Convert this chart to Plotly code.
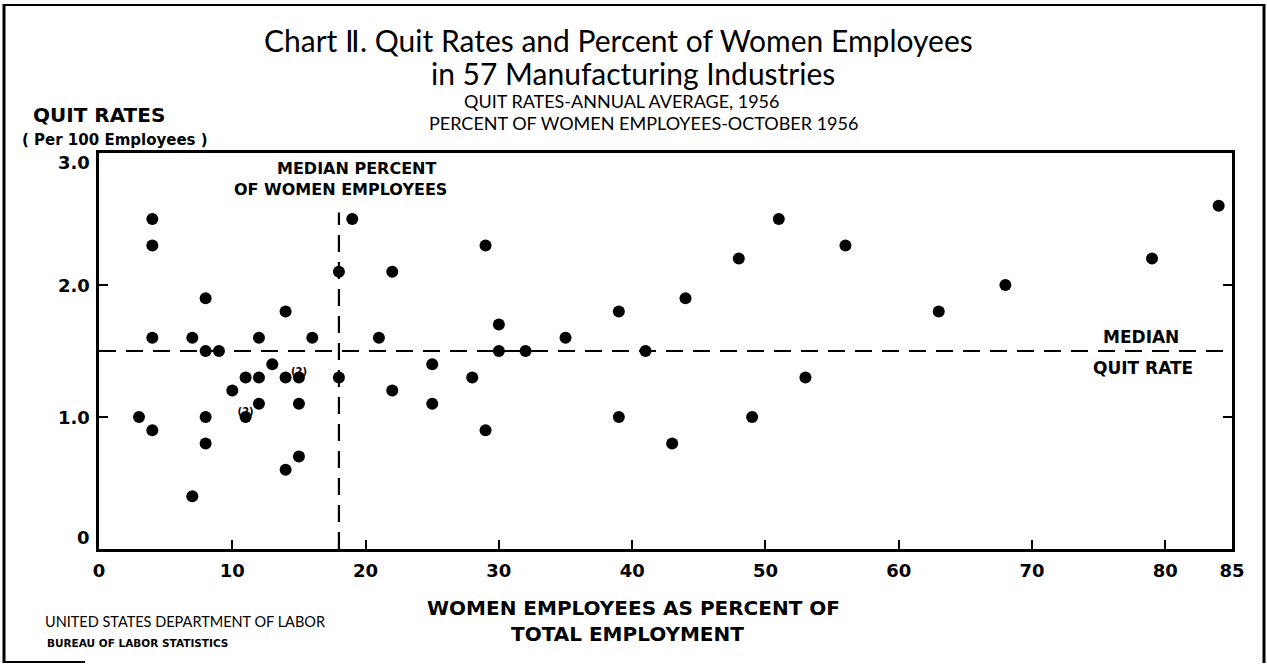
import plotly.graph_objects as go

# ---- data ----
women_pct = [4, 4, 18, 19, 8, 14, 4, 7, 12, 16, 8, 9, 13, 11, 12, 14, 15, 18, 10, 12, 15, 3, 8, 11, 4, 8, 15, 14, 7,
             29, 22, 39, 30, 21, 35, 30, 32, 41, 25, 28, 22, 25, 39, 29, 43,
             44, 48, 51, 49, 53, 56, 63, 68, 79, 84]
quit_rate = [2.5, 2.3, 2.1, 2.5, 1.9, 1.8, 1.6, 1.6, 1.6, 1.6, 1.5, 1.5, 1.4, 1.3, 1.3, 1.3, 1.3, 1.3, 1.2, 1.1, 1.1, 1.0, 1.0, 1.0, 0.9, 0.8, 0.7, 0.6, 0.4,
             2.3, 2.1, 1.8, 1.7, 1.6, 1.6, 1.5, 1.5, 1.5, 1.4, 1.3, 1.2, 1.1, 1.0, 0.9, 0.8,
             1.9, 2.2, 2.5, 1.0, 1.3, 2.3, 1.8, 2.0, 2.2, 2.6]
# points representing two industries
double_x = [15, 11]
double_y = [1.3, 1.0]
double_label = ["(2)", "(2)"]

median_women_pct = 18
median_quit_rate = 1.5
median_line_top = 2.55

x_ticks = [0, 10, 20, 30, 40, 50, 60, 70, 80, 85]
x_ticktext = ["0", "10", "20", "30", "40", "50", "60", "70", "80", "85"]
y_ticks = [0, 1, 2, 3]
y_ticktext = ["0", "1.0", "2.0", "3.0"]

X_MAX = 85
Y_MAX = 3.0

HEAVY = "DejaVu Sans"
LIGHT = "Lato"

W, H = 1267, 664
PL, PR, PT, PB = 99, 1232, 153, 549          # plot frame in pixels
L, R, T, B = PL, W - PR, PT, H - PB

def px(x):  # pixel -> paper x
    return (x - PL) / (PR - PL)

def py(y):  # pixel -> paper y
    return (PB - y) / (PB - PT)

fig = go.Figure()

# median lines
dash = "17px,10px"
fig.add_trace(go.Scatter(x=[median_women_pct, median_women_pct], y=[0, median_line_top], mode="lines",
                         line=dict(color="black", width=2.2, dash=dash), hoverinfo="skip", showlegend=False))
fig.add_trace(go.Scatter(x=[0, X_MAX], y=[median_quit_rate, median_quit_rate], mode="lines",
                         line=dict(color="black", width=2.2, dash=dash), hoverinfo="skip", showlegend=False))

# points
fig.add_trace(go.Scatter(x=women_pct, y=quit_rate, mode="markers",
                         marker=dict(color="black", size=12, line=dict(width=0)), showlegend=False))

fig.add_trace(go.Scatter(x=double_x, y=double_y, mode="text", text=double_label,
                         textposition="top center",
                         textfont=dict(family=HEAVY, size=10, color="black", weight="bold"),
                         showlegend=False, hoverinfo="skip"))

ann = []
def add(text, x, y, size, family=LIGHT, weight="normal", xanchor="center", xref="paper", yref="paper", yshift=0):
    ann.append(dict(text=text, x=x, y=y, xref=xref, yref=yref, showarrow=False, xanchor=xanchor,
                    yanchor="middle", yshift=yshift,
                    font=dict(family=family, size=size, color="black", weight=weight)))

add("Chart \u2161. Quit Rates and Percent of Women Employees", px(618), py(40), 30)
add("in 57 Manufacturing Industries", px(633), py(73), 30)
add("QUIT RATES-ANNUAL AVERAGE, 1956", px(622), py(101), 18)
add("PERCENT OF WOMEN EMPLOYEES-OCTOBER 1956", px(643), py(123), 18)

add("QUIT RATES", px(31), py(115), 20, HEAVY, "bold", xanchor="left")
add("( Per 100 Employees )", px(20), py(140), 15, HEAVY, "bold", xanchor="left")

add("MEDIAN PERCENT", 19.3, 2.88, 16, HEAVY, "bold", xref="x", yref="y")
add("OF WOMEN EMPLOYEES", 18.15, 2.72, 16, HEAVY, "bold", xref="x", yref="y")

add("MEDIAN", 78.2, median_quit_rate, 17, HEAVY, "bold", xref="x", yref="y", yshift=14)
add("QUIT RATE", 78.3, median_quit_rate, 17, HEAVY, "bold", xref="x", yref="y", yshift=-17)

add("WOMEN EMPLOYEES AS PERCENT OF", px(633), py(608), 20, HEAVY, "bold")
add("TOTAL EMPLOYMENT", px(627), py(634), 20, HEAVY, "bold")

add("UNITED STATES DEPARTMENT OF LABOR", px(43), py(621), 14.5, LIGHT, "normal", xanchor="left")
add("BUREAU OF LABOR STATISTICS", px(45), py(643), 10.5, HEAVY, "bold", xanchor="left")

# y tick labels (end labels sit slightly inside the frame, as printed)
y_shift = {0: 12, 3: -9}
for v, t in zip(y_ticks, y_ticktext):
    ann.append(dict(text=t, x=px(92), y=v, xref="paper", yref="y", showarrow=False, xanchor="right",
                    yanchor="middle", yshift=y_shift.get(v, 0),
                    font=dict(family=HEAVY, size=18, color="black", weight="bold")))

shapes = [
    dict(type="line", xref="paper", yref="paper", x0=px(4), x1=px(4), y0=py(4), y1=py(663), line=dict(color="black", width=3)),
    dict(type="line", xref="paper", yref="paper", x0=px(3), x1=px(1265), y0=py(5), y1=py(5), line=dict(color="black", width=2)),
    dict(type="line", xref="paper", yref="paper", x0=px(1264), x1=px(1264), y0=py(4), y1=py(663), line=dict(color="black", width=3)),
    dict(type="line", xref="paper", yref="paper", x0=px(3), x1=px(85), y0=py(662), y1=py(662), line=dict(color="black", width=2)),
]

fig.update_layout(
    width=W, height=H, autosize=False,
    margin=dict(l=L, r=R, t=T, b=B),
    paper_bgcolor="white", plot_bgcolor="white",
    annotations=ann, shapes=shapes, showlegend=False,
    xaxis=dict(range=[0, X_MAX], tickvals=x_ticks, ticktext=x_ticktext, ticks="inside", ticklen=9,
               tickwidth=2, tickcolor="black", showline=True, linewidth=3, linecolor="black", mirror=True,
               showgrid=False, zeroline=False, ticklabelstandoff=3,
               tickfont=dict(family=HEAVY, size=18, color="black", weight="bold")),
    yaxis=dict(range=[0, Y_MAX], tickvals=[1, 2], ticks="inside", ticklen=9, tickwidth=2, tickcolor="black",
               showticklabels=False, showline=True, linewidth=3, linecolor="black", mirror="ticks",
               showgrid=False, zeroline=False),
)

fig.write_html("out.html", config={"displayModeBar": False},
               post_script="document.body.style.margin='0px';document.body.style.overflow='hidden';")
